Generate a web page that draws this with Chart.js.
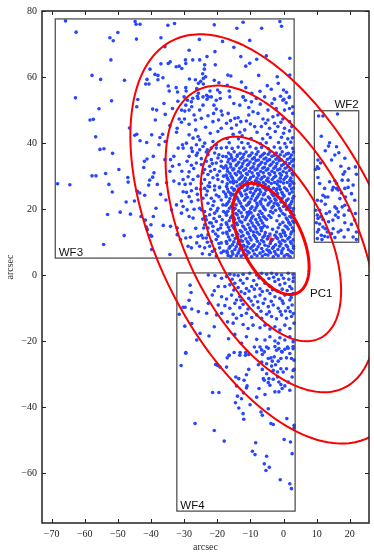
<!DOCTYPE html>
<html>
<head>
<meta charset="utf-8">
<script src="https://cdn.jsdelivr.net/npm/chart.js@4.4.1/dist/chart.umd.min.js"></script>
<style>
  html, body { margin: 0; padding: 0; background: #fff; }
  canvas { display: block; }
</style>
</head>
<body>
<canvas id="field" width="374" height="556"></canvas>
<script>
// star positions (arcsec), one list per field
const wf3Stars = [
  [-65.8,77.0],[-62.6,73.6],[-68.2,27.7],[-64.5,27.4],[-62.8,53.7],[-57.8,60.5],[-55.2,59.3],[-58.4,47.0],[-57.4,47.2],
  [-56.7,41.9],[-55.7,50.4],[-55.4,38.1],[-54.2,38.3],[-57.8,30.1],[-56.6,30.1],[-53.7,30.8],[-52.7,27.5],[-51.7,25.2],
  [-53.1,18.4],[-54.3,9.3],[-52.4,71.9],[-51.4,71.0],[-50.0,73.5],[-52.1,65.2],[-51.9,52.8],[-51.6,36.9],[-49.7,32.0],
  [-49.3,19.1],[-48.0,59.0],[-47.5,22.2],[-48.1,12.0],[-47.0,29.6],[-46.9,28.2],[-46.5,44.6],[-46.2,18.5],
  [-44.8,76.8],[-44.4,71.5],[-44.5,76.0],[-43.3,76.0],[-45.0,22.5],[-44.9,42.4],[-44.3,42.7],[-44.1,25.4],[-44.0,53.2],
  [-44.3,51.0],[-43.3,40.7],[-43.4,24.9],[-43.0,17.8],[-42.2,32.6],[-42.0,34.5],[-41.9,24.2],[-41.7,16.7],[-41.1,13.8],
  [-41.4,14.6],[-41.2,35.2],[-41.3,40.2],[-41.6,57.9],[-41.2,59.3],[-40.6,57.9],[-40.7,27.3],[-40.3,62.4],[-40.4,28.8],
  [-34.9,75.7],[-32.9,76.2],[-20.9,75.8],[-14.1,74.8],[-12.2,76.6],[-6.6,74.8],[-1.1,76.8],[-0.6,75.4],[-37.0,71.9],
  [-25.4,71.4],[-18.4,70.8],[-10.2,71.1],[-35.8,69.2],[-28.5,68.1],[-15.0,69.0],[-20.7,67.7],[-23.1,66.2],[-12.9,66.2],
  [-5.2,66.4],[1.9,65.7],[-29.6,65.2],[-27.4,65.2],[-25.3,65.2],[-37.0,64.0],[-34.8,64.1],[-34.2,64.6],[-32.4,63.1],
  [-31.5,63.3],[-30.7,62.6],[-29.5,64.1],[-23.8,63.7],[-20.6,63.7],[-10.2,64.2],[-8.1,65.4],[-11.4,63.3],[-23.9,62.4],
  [-24.4,61.0],[-38.8,60.8],[-37.9,60.5],[-36.4,59.8],[-37.9,59.2],[-34.8,57.3],[-32.4,56.8],[-29.5,56.8],[-28.4,59.4],
  [-26.6,59.2],[-25.7,58.1],[-25.0,58.7],[-24.2,59.6],[-23.5,60.1],[-24.2,57.9],[-20.9,59.0],[-19.5,58.3],[-16.8,60.6],
  [-15.9,60.3],[-17.0,57.5],[-12.7,58.5],[-11.4,56.8],[-7.5,60.5],[-4.9,57.4],[-1.9,60.1],[-1.6,58.1],[1.9,60.6],
  [0.0,56.1],[0.9,55.4],[1.7,53.8],[-3.7,56.3],[-2.8,53.4],[-29.4,55.8],[-26.2,56.5],[-25.7,55.1],[-23.2,54.5],
  [-22.7,54.0],[-19.9,56.1],[-19.2,55.3],[-16.4,55.8],[-12.2,54.0],[-9.6,55.1],[-7.1,55.7],[-34.5,55.8],[-32.0,55.5],
  [-27.4,53.6],[-26.0,54.2],[-22.2,55.8],[-0.9,54.2],[0.1,53.3],
  [-36.1,52.0],[-30.0,54.0],[-29.0,53.0],[-27.8,52.5],[-25.8,53.5],[-24.3,54.0],[-23.1,53.3],[-21.8,54.0],[-20.3,53.0],
  [-19.1,53.5],[-39.5,50.3],[-38.3,50.0],[-38.7,47.0],[-35.7,48.7],[-31.9,52.7],[-29.5,51.5],[-30.8,50.0],[-29.8,49.7],
  [-28.5,50.0],[-27.7,51.0],[-25.3,50.0],[-24.3,51.5],[-20.3,50.3],[-18.8,49.7],[-21.1,49.0],[-31.5,47.3],[-29.9,47.3],
  [-30.8,46.3],[-28.5,45.7],[-26.6,47.0],[-24.8,47.5],[-22.8,48.3],[-19.6,47.0],[-21.3,46.5],[-18.5,48.5],[-34.3,45.3],
  [-32.1,44.5],[-32.3,43.3],[-28.5,42.5],[-27.3,41.5],[-25.8,42.0],[-25.3,41.0],[-19.8,43.5],[-18.8,44.5],[-22.1,43.0],
  [-21.3,40.5],[-20.3,39.5],[-36.5,42.7],[-37.3,41.7],[-37.6,39.5],[-39.8,42.5],[-35.7,40.5],[-30.3,38.5],[-30.5,39.5],
  [-31.8,38.5],[-29.3,40.0],[-27.8,38.5],[-26.3,39.5],[-24.3,39.0],[-23.8,40.0],[-25.3,38.0],[-27.5,37.5],[-39.3,36.0],
  [-35.8,35.0],[-34.1,35.0],[-33.1,36.0],[-31.5,33.5],[-33.5,33.0],[-34.3,31.5],[-30.7,31.5],[-29.1,34.5],[-28.5,36.0],
  [-27.8,33.3],[-26.3,34.0],[-27.1,32.3],[-28.5,31.3],[-25.8,30.0],[-30.3,29.0],[-31.5,27.7],[-29.7,27.5],[-28.1,27.7],
  [-27.3,29.0],[-24.8,33.5],[-26.3,36.3],[-24.8,35.3],[-23.3,37.3],[-39.1,31.0],[-38.1,27.5],[-39.5,29.7],[-33.1,28.5],
  [-35.3,28.0],[-22.8,36.5],[-21.8,35.0],[-20.8,37.0],[-19.8,35.5],[-18.8,34.5],[-18.3,36.0],[-22.3,33.0],[-20.8,32.0],
  [-19.3,31.5],[-18.1,32.5],[-22.8,30.5],[-21.3,29.5],[-19.8,29.0],[-18.5,28.3],[-22.3,28.0],[-20.8,27.0],[-19.3,26.7],
  [-18.1,30.0],[-20.3,38.5],[-18.8,38.5],[-21.8,38.5],[-23.3,34.5],[-23.8,32.0],[-23.8,29.0],[-22.8,27.0],[-20.3,34.0],
  [-18.8,33.0],
  [-16.2,54.0],[-12.2,54.0],[-11.5,53.0],[-13.2,51.5],[-9.7,52.5],[-8.2,53.5],[-5.7,54.0],[-2.7,53.3],[-0.2,53.0],
  [1.8,54.0],[2.8,51.0],[-16.7,49.0],[-14.7,47.5],[-13.7,47.7],[-12.9,46.5],[-14.2,45.5],[-15.7,44.5],[-11.2,46.7],
  [-10.5,48.5],[-9.2,49.5],[-7.7,49.0],[-6.2,47.3],[-4.7,47.0],[-3.2,48.0],[-1.7,48.5],[-0.2,47.3],[1.8,46.5],
  [2.8,49.0],[-2.7,46.0],[-1.7,45.0],[0.3,44.5],[1.8,43.7],[-4.2,44.5],[-6.7,45.0],[-8.7,45.0],[-11.7,44.0],
  [-13.2,43.3],[-15.2,42.7],[-17.2,46.0],[-4.7,50.0],[-2.2,50.5],[0.3,50.0],[1.8,50.5],
  [-15.0,52.0],[-10.5,50.8],[-7.0,51.8],[-3.5,52.0],[0.8,52.2],[-16.0,46.8],[-10.0,45.8],[-5.4,46.0],[-0.8,46.3],
  [2.5,45.0],[-8.0,43.3],[-4.8,42.7],[-2.5,43.5],[0.0,43.0],[-12.5,42.2],[-23.5,44.8],[-26.5,44.0],[-21.0,51.5],
  [-27.0,48.5],[-33.5,50.5],
  [-17.0,41.4],[-13.6,41.3],[-9.8,41.4],[-6.3,41.3],[-4.0,41.7],[-0.6,41.8],[1.3,41.3],[2.7,41.6],
  [-16.4,40.1],[-12.6,40.2],[-10.7,39.9],[-7.0,39.8],[-5.2,40.1],[-1.5,40.2],[0.4,39.9],[2.2,40.3],
  [-17.2,38.7],[-15.5,38.4],[-13.7,38.8],[-12.0,38.5],[-10.1,38.9],[-8.3,38.4],[-6.6,38.7],[-4.6,38.3],[-2.8,38.8],
  [-1.0,38.5],[0.9,38.8],[2.8,38.4],
  [-16.6,37.0],[-14.9,37.4],[-13.1,36.9],[-11.3,37.3],[-9.5,37.0],[-7.7,37.4],[-5.8,36.9],[-4.1,37.3],[-2.2,37.0],
  [-0.4,37.4],[1.5,36.9],[3.0,37.3],
  [-15.9,36.5],[-13.9,36.4],[-12.0,36.6],[-10.1,36.3],[-8.2,36.6],[-6.4,36.4],[-4.6,36.6],[-2.8,36.3],[-1.0,36.5],
  [0.9,36.7],[2.4,36.4],
  [-17.3,35.9],[-15.7,35.6],[-14.0,36.0],[-12.3,35.7],[-10.5,36.1],[-8.8,35.6],[-7.0,35.9],[-5.3,35.5],[-3.5,36.0],
  [-1.7,35.7],[0.2,36.1],[2.0,35.6],
  [-16.5,35.1],[-14.6,35.0],[-12.9,35.2],[-11.0,34.9],[-9.4,35.2],[-7.6,34.9],[-5.9,35.2],[-4.2,35.0],[-2.3,35.1],
  [-0.6,34.9],[1.2,35.1],[3.0,35.0],
  [-16.8,34.3],[-15.2,34.7],[-13.5,34.2],[-11.8,34.6],[-10.1,34.3],[-8.3,34.7],[-6.6,34.2],[-4.9,34.6],[-3.1,34.3],
  [-1.3,34.7],[0.6,34.2],[2.5,34.5],
  [-16.0,33.7],[-14.0,33.6],[-12.3,33.8],[-10.6,33.6],[-8.9,33.8],[-7.1,33.6],[-5.5,33.8],[-3.7,33.6],[-2.0,33.8],
  [0.0,33.6],[1.8,33.8],
  [-17.4,33.1],[-15.9,32.8],[-14.3,33.2],[-12.6,32.9],[-10.9,33.3],[-9.2,32.8],[-7.6,33.1],[-5.8,32.7],[-4.1,33.2],
  [-2.4,32.9],[-0.6,33.2],[1.2,32.8],[2.9,33.1],
  [-17.0,32.3],[-15.0,32.2],[-13.2,32.4],[-11.4,32.2],[-9.8,32.4],[-8.0,32.2],[-6.3,32.4],[-4.7,32.2],[-2.9,32.4],
  [-1.1,32.2],[0.5,32.4],[2.3,32.2],
  [-16.9,31.5],[-15.3,31.9],[-13.6,31.4],[-12.0,31.8],[-10.3,31.5],[-8.6,31.9],[-6.9,31.4],[-5.2,31.8],[-3.5,31.5],
  [-1.8,31.9],[-0.1,31.4],[1.8,31.7],
  [-16.2,30.9],[-14.6,30.8],[-13.0,31.0],[-11.2,30.8],[-9.5,31.0],[-7.8,30.8],[-6.1,31.0],[-4.4,30.8],[-2.7,31.0],
  [-1.1,30.8],[0.9,31.0],[2.6,30.8],
  [-17.3,30.3],[-15.8,30.0],[-14.2,30.4],[-12.5,30.1],[-10.9,30.5],[-9.1,30.0],[-7.5,30.3],[-5.8,29.9],[-4.1,30.4],
  [-2.4,30.0],[-0.7,30.3],[1.0,30.0],[2.8,30.4],
  [-17.0,29.5],[-15.4,29.4],[-12.9,29.6],[-11.5,29.4],[-9.9,29.6],[-8.0,29.4],[-6.4,29.6],[-4.7,29.4],[-2.9,29.6],
  [-1.0,29.4],[0.6,29.6],[2.2,29.4],
  [-16.7,28.9],[-15.1,28.6],[-13.4,29.1],[-11.8,28.7],[-10.2,29.0],[-8.5,28.6],[-6.8,29.1],[-5.1,28.7],[-3.4,29.0],
  [-1.7,28.5],[0.1,29.0],[1.9,28.7],
  [-16.0,28.2],[-14.2,28.3],[-12.4,28.1],[-10.9,28.3],[-9.6,28.1],[-7.9,28.3],[-6.1,28.1],[-4.5,28.3],[-2.7,28.1],
  [-0.9,28.3],[1.1,28.1],[2.6,28.3],
  [-17.0,27.7],[-15.1,27.9],[-13.1,27.5],[-11.2,27.8],[-9.0,27.6],[-7.3,28.0],[-5.5,27.5],[-3.7,27.8],[-1.9,27.6],
  [0.0,27.9],[2.0,27.5],[3.1,27.8],
  [-37.1,24.5],[-35.5,22.8],[-38.5,20.3],[-39.3,17.8],[-40.0,15.3],[-36.3,15.1],[-39.8,11.8],[-34.1,14.8],[-33.8,19.8],
  [-32.3,21.3],[-30.8,22.5],[-30.3,25.3],[-29.3,25.1],[-28.5,23.8],[-27.8,22.3],[-30.3,20.8],[-30.8,18.8],[-29.1,19.8],
  [-27.3,17.3],[-28.5,17.8],[-32.1,14.3],[-30.3,13.5],[-29.5,11.3],[-28.1,11.5],[-28.8,8.8],[-27.8,8.3],[-31.1,10.8],
  [-34.3,6.3],[-32.1,12.3],[-26.3,26.3],[-25.8,22.8],[-25.3,20.3],[-24.8,19.8],[-25.8,11.8],[-24.8,12.1],[-24.3,11.3],
  [-25.3,8.8],[-23.8,8.3],[-22.3,6.3],[-20.3,5.8],[-18.8,6.8],[-40.1,12.1],[-39.8,7.8],
  [-23.8,26.3],[-22.3,26.8],[-20.8,25.8],[-19.3,26.5],[-18.1,25.3],[-23.3,24.3],[-21.8,23.3],[-20.3,24.3],[-18.8,22.8],
  [-22.8,21.8],[-21.3,21.1],[-19.8,20.3],[-18.3,21.3],[-23.8,19.3],[-22.3,18.3],[-20.8,18.8],[-19.3,17.8],[-18.1,19.3],
  [-23.3,16.8],[-21.8,15.8],[-20.3,16.3],[-18.8,15.3],[-22.8,14.3],[-21.3,13.3],[-19.8,13.8],[-18.3,12.8],[-23.3,11.3],
  [-21.8,10.3],[-20.3,10.8],[-18.8,9.8],[-22.3,8.8],[-20.8,7.8],[-19.3,8.3],[-18.1,7.3],[-23.8,15.3],[-22.8,12.3],
  [-21.3,14.8],[-19.8,11.8],[-18.5,16.8],[-24.3,23.3],[-24.1,14.3],
  [-23.0,25.5],[-21.0,22.4],[-19.5,23.8],[-22.0,20.0],[-20.1,19.5],[-23.5,17.8],[-21.0,17.2],[-19.0,14.3],[-22.3,15.9],
  [-20.5,12.5],[-23.0,10.0],[-19.5,9.6],[-21.5,7.2],[-24.5,6.5],[-26.5,14.2],[-27.0,20.0],[-26.0,24.5],[-24.8,27.8],
  [-22.0,31.5],[-20.0,30.3],[-24.3,31.0],[-21.5,33.8],[-19.5,36.5],[-23.0,38.0],[-26.0,37.0],[-25.0,26.0],[-27.8,25.6],
  [-28.8,29.8],[-24.4,17.0],[-26.2,9.8],
  [-17.2,26.9],[-15.6,26.5],[-14.0,27.0],[-12.5,26.6],[-10.8,26.9],[-9.3,26.4],[-7.7,27.0],[-6.2,26.6],[-4.5,26.8],
  [-3.0,26.3],[-1.3,26.9],[0.3,26.5],[1.9,27.0],[3.0,26.4],
  [-16.9,26.1],[-14.8,26.0],[-13.4,26.2],[-11.0,26.0],[-9.9,26.2],[-8.1,26.0],[-5.6,26.2],[-4.0,25.9],[-2.0,26.2],
  [0.9,26.0],[2.4,26.1],
  [-16.6,25.3],[-15.0,25.7],[-13.2,25.2],[-11.7,25.6],[-10.0,25.1],[-8.5,25.5],[-6.9,25.2],[-5.3,25.7],[-3.7,25.2],
  [-2.2,25.6],[-0.5,25.1],[1.1,25.6],[2.6,25.2],
  [-17.5,24.6],[-15.2,24.5],[-12.9,24.7],[-11.3,24.5],[-9.0,24.7],[-7.4,24.5],[-5.7,24.7],[-3.4,24.5],[-1.8,24.7],
  [-0.2,24.5],[1.8,24.7],
  [-17.3,23.8],[-15.8,24.2],[-14.1,23.7],[-12.6,24.1],[-10.9,23.6],[-9.4,24.0],[-7.8,23.8],[-6.1,24.3],[-4.6,23.7],
  [-3.0,24.1],[-1.4,23.6],[0.2,24.0],[3.1,23.9],
  [-16.2,23.2],[-13.8,23.1],[-11.4,23.3],[-9.8,23.1],[-8.2,23.3],[-6.5,23.1],[-4.2,23.3],[-2.6,23.1],[-0.4,23.3],
  [1.4,23.1],[2.8,23.3],
  [-16.5,22.3],[-14.9,22.8],[-13.4,22.4],[-11.8,22.7],[-10.2,22.2],[-8.6,22.6],[-7.0,22.3],[-5.5,22.8],[-3.8,22.4],
  [-2.3,22.7],[-0.8,22.2],[0.9,22.6],[2.5,22.3],
  [-17.0,21.7],[-15.4,21.6],[-13.0,21.8],[-10.6,21.6],[-8.0,21.8],[-6.8,21.6],[-4.4,21.8],[-1.9,21.6],[0.5,21.8],
  [2.2,21.6],
  [-17.4,21.2],[-15.8,20.8],[-14.3,21.3],[-12.6,20.9],[-11.1,21.2],[-9.5,20.7],[-7.9,21.1],[-6.2,20.8],[-4.7,21.3],
  [-3.1,20.9],[-1.6,21.2],[0.0,20.8],[1.7,21.1],
  [-16.3,20.3],[-14.6,20.2],[-12.2,20.4],[-9.9,20.2],[-8.3,20.4],[-5.9,20.2],[-3.5,20.4],[-1.2,20.2],[1.2,20.4],
  [3.0,20.2],
  [-16.8,19.4],[-15.1,19.8],[-13.5,19.5],[-11.9,19.9],[-10.3,19.3],[-8.7,19.7],[-7.1,19.4],[-5.5,19.8],[-3.9,19.3],
  [-2.4,19.7],[-0.8,19.5],[0.9,19.9],[2.6,19.4],
  [-17.4,18.8],[-14.4,18.7],[-12.8,18.9],[-10.5,18.7],[-9.8,18.9],[-6.5,18.7],[-3.2,18.9],[-0.2,18.7],[2.2,18.9],
  [-17.2,18.2],[-15.6,17.9],[-14.0,18.3],[-12.4,17.8],[-10.8,18.2],[-9.2,17.9],[-7.6,18.3],[-6.0,17.8],[-4.4,18.1],
  [-1.3,18.0],[0.4,18.3],[1.9,17.8],[3.1,18.2],
  [-16.0,17.4],[-13.6,17.3],[-11.2,17.5],[-9.6,17.3],[-7.2,17.5],[-5.6,17.3],[-3.8,17.5],[0.8,17.3],[2.4,17.5],
  [-16.4,16.5],[-14.8,16.9],[-13.2,16.4],[-11.6,16.8],[-10.0,16.5],[-8.4,16.9],[-6.8,16.6],[-5.1,16.9],[-2.0,16.5],
  [1.2,16.8],[2.8,16.4],
  [-17.3,15.9],[-14.2,15.8],[-12.6,16.0],[-9.5,15.8],[-8.0,16.0],[-6.3,15.8],[-0.2,16.0],[1.7,15.8],[3.1,16.0],
  [-17.1,15.4],[-15.5,15.0],[-13.9,15.3],[-12.3,14.9],[-10.7,15.4],[-9.1,15.0],[-7.5,15.3],[-5.8,15.0],[-1.1,15.4],
  [0.5,14.9],[2.1,15.3],
  [-16.6,14.5],[-15.0,14.4],[-12.0,14.6],[-10.2,14.4],[-8.6,14.6],[-6.9,14.4],[-4.9,14.6],[-1.6,14.4],[1.0,14.6],
  [2.7,14.4],
  [-16.3,13.6],[-14.7,14.0],[-13.1,13.5],[-11.5,13.9],[-9.9,13.6],[-8.3,14.0],[-6.7,13.5],[-3.3,13.9],[-0.2,13.6],
  [1.4,14.0],[3.0,13.5],
  [-17.2,13.0],[-14.2,12.9],[-12.6,13.1],[-10.9,12.9],[-9.1,13.1],[-5.5,12.9],[-2.1,13.1],[0.3,12.9],[2.4,13.1],
  [-17.0,12.5],[-15.4,12.1],[-13.8,12.4],[-12.2,12.0],[-10.6,12.5],[-9.0,12.1],[-7.3,12.4],[-5.7,12.0],[-4.1,12.5],
  [-2.6,12.1],[-1.0,12.4],[0.6,12.0],[2.2,12.5],
  [-16.6,11.6],[-14.0,11.5],[-12.8,11.7],[-10.2,11.5],[-8.6,11.7],[-6.2,11.5],[-4.6,11.7],[-2.2,11.5],[-0.7,11.7],
  [1.8,11.5],
  [-16.2,10.7],[-14.6,11.1],[-13.0,10.6],[-11.4,11.0],[-9.8,10.7],[-8.2,11.1],[-6.6,10.6],[-4.9,11.0],[-3.4,10.7],
  [-1.8,11.1],[-0.3,10.6],[1.3,11.0],[2.9,10.7],
  [-17.3,10.2],[-15.0,10.1],[-12.4,10.3],[-10.9,10.1],[-7.9,10.3],[-6.0,10.1],[-3.8,10.3],[-1.3,10.1],[0.4,10.3],
  [2.1,10.1],
  [-17.1,9.6],[-15.4,9.2],[-13.8,9.5],[-12.1,9.1],[-10.5,9.6],[-8.9,9.2],[-7.2,9.5],[-5.6,9.1],[-4.0,9.6],
  [-2.4,9.2],[-0.8,9.5],[0.8,9.1],[2.4,9.6],
  [-16.1,8.7],[-14.3,8.6],[-12.6,8.8],[-11.0,8.6],[-9.3,8.8],[-7.7,8.6],[-4.6,8.8],[-3.0,8.6],[-1.2,8.8],
  [1.2,8.6],[3.0,8.8],
  [-16.4,8.2],[-14.7,7.8],[-13.1,8.1],[-11.5,7.7],[-9.9,8.2],[-8.2,7.8],[-6.6,8.1],[-5.0,7.7],[-3.3,8.2],
  [-1.7,7.8],[-0.1,8.1],[1.5,7.7],[3.0,8.2],
  [-17.1,7.3],[-15.5,7.2],[-13.4,7.4],[-10.8,7.2],[-9.2,7.4],[-6.2,7.2],[-4.3,7.4],[-2.7,7.2],[-0.5,7.4],
  [2.2,7.2],
  [-17.0,6.8],[-15.3,6.4],[-13.7,6.7],[-12.0,6.3],[-10.4,6.8],[-8.8,6.4],[-7.1,6.7],[-5.5,6.3],[-3.9,6.8],
  [-2.3,6.4],[-0.6,6.7],[1.0,6.3],[2.6,6.8],
  [-16.7,6.0],[-14.2,5.9],[-11.1,6.1],[-8.0,5.9],[-4.7,6.1],[-1.6,5.9],[1.4,6.1],
  [-15.9,5.7],[-12.8,5.8],[-9.6,5.6],[-6.4,5.8],[-3.1,5.6],[0.2,5.8],[2.0,5.6],
  [-16.0,24.8],[-11.0,19.0],[-7.2,25.9],[-2.8,21.8],[1.6,16.0],[-13.6,10.2],[-8.0,13.0],[-4.4,7.2],[0.0,12.9],
  [-15.0,17.4],[-10.4,22.0],[-6.4,14.4],[2.0,20.4],[-1.0,26.0],[-12.0,8.8]
];

const wf2Stars = [
  [10.6,48.2],[11.9,48.2],[16.3,48.8],[11.4,42.1],[13.9,40.1],[13.6,39.1],[16.0,38.9],[16.7,37.1],[12.6,37.7],
  [10.4,34.9],[11.2,34.0],[10.2,32.8],[9.6,32.0],[10.6,32.3],[15.5,36.4],[14.5,34.9],[18.5,35.4],[17.3,33.0],
  [18.5,31.3],[18.0,30.6],[19.7,32.3],[21.7,32.8],[22.0,30.6],[13.9,28.3],[15.5,28.6],[16.0,27.8],[15.0,26.6],
  [14.7,25.8],[16.0,26.3],[16.5,25.8],[17.5,24.9],[18.5,26.3],[19.5,28.8],[19.5,26.6],[10.4,29.6],[10.9,27.8],
  [12.4,26.3],[11.9,24.2],[12.6,23.7],[10.2,22.7],[11.4,22.5],[13.4,23.7],[17.0,23.2],[18.7,23.7],[20.5,24.7],
  [21.5,22.7],[17.7,20.7],[16.0,20.2],[15.5,20.7],[16.5,19.2],[13.9,19.2],[12.9,18.7],[10.9,19.7],[10.2,18.2],
  [11.9,16.9],[9.9,15.9],[10.9,15.5],[10.6,13.8],[11.9,14.6],[12.6,14.1],[13.6,16.2],[14.9,16.7],[15.7,18.2],
  [16.5,17.5],[18.3,18.2],[18.5,15.9],[19.5,13.8],[20.5,15.4],[21.5,16.7],[21.7,18.7],[22.0,13.1],[17.3,13.6],
  [14.5,12.6],[13.4,11.6],[12.4,11.8],[11.4,12.1],[10.2,11.1],[15.5,11.4],[18.3,11.6],[21.0,11.6],[22.0,10.8],
  [16.5,13.1],[19.7,19.7],[18.5,21.2],[12.6,21.5],[17.7,28.8],[21.0,27.3],[9.7,19.7],[11.2,17.7],[10.2,13.1],
  [11.6,10.8],[13.2,13.1],[15.0,14.1],[10.4,17.2]
];

const wf4Stars = [
  [-31.5,-11.8],[-30.3,-9.7],[-29.7,-9.7],[-29.8,-15.4],[-29.5,-23.6],[-30.9,-27.3],[-28.5,-7.6],[-28.2,-3.0],
  [-27.9,-5.2],[-27.7,-10.2],[-25.7,-11.0],[-23.2,-11.5],[-25.2,-17.6],[-26.2,-19.6],[-20.9,-15.6],[-22.7,-8.5],
  [-21.5,-6.0],[-20.9,-4.7],[-22.7,0.1],[-20.7,-0.1],[-18.7,-0.9],[-17.2,-0.4],[-16.2,0.3],
  [-27.7,-14.6],[-22.5,-18.4],[-16.9,-14.1],[-16.6,-19.2],[-13.1,-23.4],[-16.4,-24.2],[-11.4,-23.4],
  [-14.9,0.1],[-13.7,-0.1],[-12.2,0.3],[-10.2,0.6],[-8.1,0.1],[-6.6,0.6],[-5.1,0.3],[-3.6,0.6],[-2.1,0.3],
  [-0.6,0.1],[1.4,0.6],[2.9,0.3],
  [-15.5,-1.2],[-13.0,-1.5],[-11.0,-1.0],[-9.0,-1.6],[-7.4,-0.8],[-6.0,-1.5],[-4.4,-1.0],[-3.0,-0.6],[-1.5,-1.3],
  [0.0,-0.9],[1.6,-1.2],[3.0,-0.8],
  [-19.7,-3.4],[-17.7,-3.4],[-16.2,-2.9],[-14.7,-2.4],[-13.7,-3.7],[-12.2,-2.4],[-11.2,-4.0],[-9.6,-3.4],[-8.1,-2.9],
  [-7.1,-4.1],[-5.6,-2.4],[-4.1,-3.4],[-2.6,-1.9],[-1.1,-2.9],[0.4,-2.4],[1.9,-3.4],[2.9,-1.9],
  [-15.0,-4.5],[-12.8,-5.0],[-10.4,-4.8],[-8.8,-4.2],[-6.4,-4.9],[-4.9,-4.6],[-3.3,-4.4],[-1.9,-4.8],[-0.4,-4.2],
  [1.1,-4.6],[2.5,-4.1],
  [-18.7,-6.5],[-17.2,-7.2],[-15.7,-6.0],[-14.2,-7.5],[-13.2,-6.5],[-11.7,-5.5],[-10.5,-7.0],[-8.6,-6.5],[-7.1,-6.0],
  [-5.6,-7.2],[-4.1,-5.5],[-2.6,-6.5],[-1.1,-7.0],[0.4,-6.0],[1.9,-7.5],[2.9,-5.5],
  [-9.8,-7.8],[-7.8,-8.0],[-3.7,-7.9],[-0.4,-7.7],[2.3,-6.7],[-12.8,-7.6],
  [-19.7,-9.0],[-17.7,-9.2],[-16.2,-10.0],[-14.7,-8.5],[-13.2,-9.8],[-12.2,-8.8],[-10.7,-10.2],[-9.2,-9.0],[-7.6,-9.8],
  [-6.1,-8.5],[-4.6,-9.5],[-3.1,-9.0],[-1.6,-10.0],[-0.1,-8.5],[1.4,-9.8],[2.6,-9.0],
  [-1.0,-11.0],[0.6,-10.8],[2.0,-11.0],[3.0,-11.6],[-6.8,-10.9],[-4.3,-11.1],
  [-20.2,-12.0],[-18.7,-11.5],[-15.2,-11.8],[-14.2,-13.0],[-12.7,-12.2],[-11.2,-11.5],[-9.6,-12.8],[-8.1,-12.0],
  [-6.6,-13.0],[-5.1,-11.8],[-3.6,-12.5],[-2.1,-13.2],[-0.6,-12.0],[0.9,-13.0],[2.4,-12.5],
  [-15.2,-14.5],[-12.2,-14.9],[-10.7,-16.1],[-9.2,-15.1],[-7.1,-15.9],[-5.6,-15.1],[-4.1,-16.3],[-2.6,-15.6],
  [-1.1,-16.6],[0.4,-15.1],[1.9,-16.1],[3.2,-14.5],
  [-14.7,-17.9],[-11.2,-18.6],[-8.1,-19.4],[-5.6,-19.6],[-4.1,-18.6],[-2.6,-19.9],[-1.1,-18.9],[0.4,-19.6],
  [1.9,-18.6],[2.9,-20.1],
  [-12.7,-20.6],[-8.8,-21.7],[-6.6,-22.6],[-4.6,-22.1],[-2.6,-21.6],[-0.6,-23.1],[1.4,-22.1],[2.9,-21.6],[-1.6,-20.6],
  [-29.5,-23.4],[-26.7,-44.9],[-20.9,-47.0],[-17.9,-50.2],[-21.4,-35.5],[-19.5,-35.5],[-20.5,-27.0],[-19.9,-27.3],
  [-19.2,-27.8],[-17.2,-27.8],[-17.0,-25.0],[-16.4,-24.2],[-14.9,-23.4],[-13.2,-24.2],[-11.5,-24.2],[-10.5,-28.5],
  [-11.2,-30.1],[-11.9,-31.8],[-13.5,-31.3],[-14.4,-30.8],[-14.2,-33.5],[-11.0,-33.5],[-11.2,-34.1],[-12.1,-35.6],
  [-13.9,-36.6],[-12.7,-37.4],[-14.5,-38.6],[-13.5,-40.2],[-12.2,-41.9],[-12.0,-43.6],[-10.1,-39.2],[-8.1,-36.9],
  [-7.4,-34.3],[-5.6,-36.1],[-4.6,-40.4],[-6.8,-41.4],[-6.4,-42.4],[-3.8,-44.9],[-3.1,-45.2],[1.0,-43.4],
  [0.2,-49.7],[2.1,-50.5],[2.6,-54.0],[3.2,-45.4],[3.2,-46.2],[-8.4,-50.7],[-9.4,-53.3],[-8.6,-54.3],[-5.1,-54.8],
  [-5.8,-57.1],[-4.3,-58.1],[-5.3,-59.1],[-1.0,-61.9],[1.9,-63.1],[2.4,-64.6],
  [-10.5,-24.0],[-8.1,-23.2],[-7.1,-21.7],[-6.4,-24.0],[-5.8,-23.2],[-5.1,-21.7],[-4.6,-25.2],[-3.8,-25.0],[-3.4,-26.0],
  [-2.8,-24.7],[-2.1,-22.7],[-1.4,-22.2],[-0.4,-23.2],[0.4,-22.4],[1.2,-21.7],[1.9,-23.7],[2.4,-25.2],[0.9,-25.0],
  [-0.8,-25.2],[-1.6,-26.0],[-2.4,-27.1],[-3.6,-27.5],[-5.1,-26.8],[-6.6,-26.3],[-7.6,-27.1],[-6.4,-28.5],[-5.1,-29.8],
  [-6.1,-31.3],[-5.8,-31.8],[-4.4,-31.3],[-3.1,-31.5],[-1.8,-30.8],[-1.4,-32.3],[-0.8,-33.1],[-0.4,-34.3],[0.4,-33.5],
  [1.4,-32.3],[2.9,-28.8],[3.2,-28.5],[2.6,-30.8],[1.9,-34.8],[-0.1,-29.3],[0.9,-28.3],[-0.8,-28.3],[-1.8,-29.3],
  [-3.1,-28.8],[-4.6,-32.5],[-4.1,-33.3],[-2.6,-35.3],[-1.4,-35.3],[2.9,-22.2],[3.2,-25.7]
];

// field boxes: [xMin, xMax, yMin, yMax] in arcsec
const fieldNames = ['WF3', 'WF2', 'WF4'];
const fieldBoxes = [[-68.9, 3.2, 5.2, 77.6], [9.3, 22.7, 10.0, 49.8], [-32.2, 3.5, -71.4, 0.7]];

// error ellipses around the PC1 position
const ellipseCenter = [-3.8, 11.0];
const ellipseMajor = [18.2, 33.5, 50.2, 67.0];
const ellipseMinor = [9.2, 16.9, 25.4, 33.9];
const ellipseAngle = 116.2; // degrees

const blue = 'rgb(38, 70, 255)';
const fmt = v => (v < 0 ? '\u2212' + Math.abs(v) : '' + v);

const overlay = {
  id: 'overlay',
  afterDatasetsDraw(chart) {
    const { ctx, chartArea: a, scales: { x, y } } = chart;
    const px = v => x.getPixelForValue(v);
    const py = v => y.getPixelForValue(v);
    ctx.save();
    ctx.beginPath();
    ctx.rect(a.left, a.top, a.right - a.left, a.bottom - a.top);
    ctx.clip();

    // field outlines + names
    ctx.strokeStyle = '#444';
    ctx.lineWidth = 1.2;
    ctx.fillStyle = '#111';
    ctx.font = '11.5px "Liberation Sans", Arial, sans-serif';
    fieldBoxes.forEach((b, i) => {
      const l = px(b[0]), r = px(b[1]), t = py(b[3]), btm = py(b[2]);
      ctx.strokeRect(l, t, r - l, btm - t);
      if (fieldNames[i] === 'WF2') {
        ctx.textAlign = 'right';
        ctx.fillText(fieldNames[i], r, t - 2.5);
      } else {
        ctx.textAlign = 'left';
        ctx.fillText(fieldNames[i], l + 3.5, btm - 2);
      }
    });
    ctx.textAlign = 'left';
    ctx.fillText('PC1', px(8.0), py(-6.7));

    // ellipses
    const th = ellipseAngle * Math.PI / 180;
    const c = Math.cos(th), s = Math.sin(th);
    ctx.strokeStyle = 'rgb(250, 0, 0)';
    ellipseMajor.forEach((A, i) => {
      const B = ellipseMinor[i];
      ctx.beginPath();
      for (let k = 0; k <= 240; k++) {
        const t = k / 240 * 2 * Math.PI;
        const u = A * Math.cos(t), v = B * Math.sin(t);
        const ex = px(ellipseCenter[0] + u * c - v * s);
        const ey = py(ellipseCenter[1] + u * s + v * c);
        if (k === 0) ctx.moveTo(ex, ey); else ctx.lineTo(ex, ey);
      }
      ctx.closePath();
      ctx.lineWidth = i === 0 ? 3 : 2;
      ctx.stroke();
    });

    // centre cross
    const cx = px(ellipseCenter[0]), cy = py(ellipseCenter[1]);
    ctx.lineWidth = 1;
    ctx.beginPath();
    ctx.moveTo(cx - 4, cy); ctx.lineTo(cx + 4, cy);
    ctx.moveTo(cx, cy - 4); ctx.lineTo(cx, cy + 4);
    ctx.stroke();
    ctx.restore();

    // frame with inward ticks on all sides
    ctx.save();
    ctx.strokeStyle = '#222';
    ctx.lineWidth = 1.5;
    ctx.strokeRect(a.left, a.top, a.right - a.left, a.bottom - a.top);
    ctx.lineWidth = 1;
    ctx.beginPath();
    x.ticks.forEach(tk => {
      const p = Math.round(px(tk.value)) + 0.5;
      ctx.moveTo(p, a.bottom); ctx.lineTo(p, a.bottom - 4);
      ctx.moveTo(p, a.top); ctx.lineTo(p, a.top + 4);
    });
    y.ticks.forEach(tk => {
      const p = Math.round(py(tk.value)) + 0.5;
      ctx.moveTo(a.left, p); ctx.lineTo(a.left + 4, p);
      ctx.moveTo(a.right, p); ctx.lineTo(a.right - 4, p);
    });
    ctx.stroke();
    ctx.restore();
  }
};

const toPoints = list => list.map(p => ({ x: p[0], y: p[1] }));
const starSet = (label, list) => ({
  label,
  data: toPoints(list),
  pointRadius: 1.8,
  pointBackgroundColor: blue,
  pointBorderWidth: 0
});

const tickFont = { family: "'Liberation Serif', 'DejaVu Serif', serif", size: 10 };

new Chart(document.getElementById('field'), {
  type: 'scatter',
  data: {
    datasets: [starSet('WF3', wf3Stars), starSet('WF2', wf2Stars), starSet('WF4', wf4Stars)]
  },
  options: {
    responsive: false,
    animation: false,
    events: [],
    layout: { autoPadding: false, padding: { left: 0, right: 5, top: 11, bottom: 0 } },
    plugins: { legend: { display: false }, tooltip: { enabled: false } },
    scales: {
      x: {
        type: 'linear',
        min: -72.9,
        max: 25.8,
        grid: { display: false, drawTicks: false },
        border: { display: false },
        ticks: { stepSize: 10, includeBounds: false, padding: 5, color: '#222', font: tickFont, callback: fmt },
        title: { display: true, text: 'arcsec', color: '#333', font: tickFont, padding: { top: 0, bottom: 2.5 } },
        afterFit(scale) { scale.height = 33; }
      },
      y: {
        type: 'linear',
        min: -75,
        max: 80,
        grid: { display: false, drawTicks: false },
        border: { display: false },
        ticks: { stepSize: 20, includeBounds: false, padding: 5, color: '#222', font: tickFont, callback: fmt },
        title: { display: true, text: 'arcsec', color: '#333', font: tickFont, padding: { top: 4, bottom: 0 } },
        afterFit(scale) { scale.width = 42; }
      }
    }
  },
  plugins: [overlay]
});
</script>
</body>
</html>
